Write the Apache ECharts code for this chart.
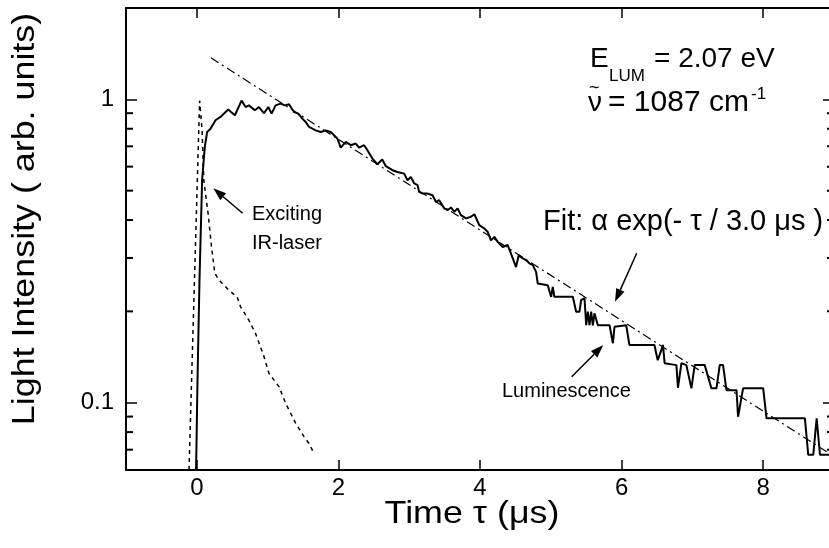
<!DOCTYPE html>
<html>
<head>
<meta charset="utf-8">
<script src="https://cdn.jsdelivr.net/npm/echarts@6/dist/echarts.min.js"></script>
<style>
  html, body { margin: 0; padding: 0; background: #fff; }
  #chart { width: 829px; height: 548px; }
</style>
</head>
<body>
<div id="chart"></div>
<script>
// luminescence trace, time in us / intensity (arb. units)
var lumT = [-0.01, 0.01, 0.038, 0.075, 0.113, 0.146, 0.194, 0.264, 0.335, 0.443,
  0.538, 0.632, 0.689, 0.736, 0.821, 0.877, 0.948, 1.009, 1.057, 1.113,
  1.184, 1.245, 1.302, 1.373, 1.434, 1.49, 1.538, 1.585, 1.679, 1.75,
  1.821, 1.892, 1.939, 1.986, 2.033, 2.104, 2.175, 2.245, 2.292, 2.363,
  2.41, 2.48, 2.55, 2.62, 2.67, 2.764, 2.834, 2.929, 2.976, 3.023,
  3.071, 3.118, 3.141, 3.188, 3.259, 3.33, 3.377, 3.424, 3.495, 3.542,
  3.589, 3.637, 3.684, 3.731, 3.802, 3.873, 3.92, 3.99, 4.061, 4.108,
  4.155, 4.203, 4.25, 4.321, 4.391, 4.438, 4.509, 4.547, 4.604, 4.651,
  4.698, 4.745, 4.792, 4.816, 4.957, 5.004, 5.028, 5.05, 5.311, 5.358,
  5.405, 5.429, 5.476, 5.5, 5.523, 5.547, 5.57, 5.594, 5.617, 5.665,
  5.83, 5.877, 5.9, 6.065, 6.11, 6.464, 6.51, 6.561, 6.584, 6.608,
  6.774, 6.796, 6.82, 6.845, 6.915, 6.986, 7.032, 7.174, 7.269, 7.34,
  7.386, 7.433, 7.481, 7.623, 7.645, 7.669, 7.716, 8.0, 8.047, 8.589,
  8.636, 8.707, 8.755, 8.802, 8.93];
var lumI = [0.06, 0.119, 0.254, 0.541, 0.697, 0.78, 0.8, 0.853, 0.875, 0.925,
  0.886, 0.99, 0.943, 0.955, 0.92, 0.943, 0.9, 0.943, 0.897, 0.955,
  0.968, 0.955, 0.963, 0.908, 0.897, 0.864, 0.842, 0.811, 0.79, 0.78,
  0.79, 0.78, 0.761, 0.742, 0.693, 0.724, 0.706, 0.715, 0.693, 0.706,
  0.68, 0.638, 0.611, 0.633, 0.602, 0.584, 0.576, 0.569, 0.541, 0.555,
  0.528, 0.521, 0.495, 0.489, 0.489, 0.483, 0.459, 0.465, 0.437, 0.431,
  0.44, 0.426, 0.437, 0.415, 0.405, 0.41, 0.418, 0.385, 0.375, 0.366,
  0.343, 0.352, 0.339, 0.326, 0.331, 0.31, 0.28, 0.306, 0.299, 0.295,
  0.288, 0.284, 0.27, 0.247, 0.244, 0.2234, 0.241, 0.2234, 0.2234, 0.1995,
  0.1995, 0.218, 0.221, 0.18, 0.1995, 0.18, 0.1995, 0.18, 0.197, 0.18,
  0.18, 0.157, 0.178, 0.18, 0.155, 0.155, 0.138, 0.149, 0.155, 0.135,
  0.133, 0.112, 0.112, 0.135, 0.133, 0.1115, 0.133, 0.133, 0.1115, 0.1115,
  0.133, 0.133, 0.11, 0.11, 0.0899, 0.0899, 0.1115, 0.1115, 0.0888, 0.0888,
  0.0673, 0.0673, 0.0888, 0.0673, 0.0673];

// exciting IR-laser pulse
var laserT = [-0.11, 0.04, 0.075, 0.099, 0.16, 0.208, 0.255, 0.311, 0.453, 0.57,
  0.618, 0.736, 0.83, 0.948, 1.019, 1.16, 1.255, 1.397, 1.514, 1.585, 1.656];
var laserI = [0.06, 0.99, 0.79, 0.541, 0.42, 0.326, 0.267, 0.254, 0.235, 0.223,
  0.207, 0.187, 0.169, 0.142, 0.125, 0.113, 0.0995, 0.0855, 0.0773, 0.0734, 0.068];

// fit  alpha exp(-t / 3.0 us)
var fitT = [0.2, 9.0];
var fitI = [1.37, 0.0665];

var xTickLabels = [0, 2, 4, 6, 8];
var yTickLabels = [0.1, 1];
// log-paper minor ticks on the intensity axis
var yMinorTicks = [0.07, 0.08, 0.09, 0.2, 0.3, 0.4, 0.5, 0.6, 0.7, 0.8, 0.9];

function pairs(t, v) {
  return t.map(function (x, i) { return [x, v[i]]; });
}

var FONT = '"Liberation Sans", Arial, sans-serif';
var BLACK = '#000';

function xAxisCfg(pos, labels) {
  return {
    type: 'value', position: pos, min: -1, max: 9, splitNumber: 5,
    axisLine: { onZero: false, lineStyle: { color: BLACK, width: 2 } },
    axisTick: { inside: true, length: 10, lineStyle: { color: BLACK, width: 1.5 } },
    axisLabel: {
      show: labels, color: BLACK, fontSize: 24, fontFamily: FONT, margin: 6,
      showMinLabel: false, showMaxLabel: false,
      formatter: function (v) { return xTickLabels.indexOf(v) >= 0 ? String(v) : ''; }
    },
    splitLine: { show: false }
  };
}

function yAxisCfg(pos, labels) {
  return {
    type: 'log', logBase: 10, position: pos, min: 0.06, max: 2,
    axisLine: { onZero: false, lineStyle: { color: BLACK, width: 2 } },
    axisTick: { inside: true, length: 11, lineStyle: { color: BLACK, width: 1.5 } },
    minorTick: { show: false },
    axisLabel: {
      show: labels, color: BLACK, fontSize: 24, fontFamily: FONT, margin: 12,
      showMinLabel: false, showMaxLabel: false,
      formatter: function (v) {
        for (var i = 0; i < yTickLabels.length; i++) {
          if (Math.abs(v - yTickLabels[i]) < 1e-6) return String(yTickLabels[i]);
        }
        return '';
      }
    },
    splitLine: { show: false },
    minorSplitLine: { show: false }
  };
}

function arrow(x1, y1, x2, y2) {
  var a = Math.atan2(y2 - y1, x2 - x1), L = 13, W = 4.5;
  var bx = x2 - L * Math.cos(a), by = y2 - L * Math.sin(a);
  return {
    type: 'group',
    children: [
      { type: 'line', shape: { x1: x1, y1: y1, x2: bx, y2: by }, style: { stroke: BLACK, lineWidth: 1.5 } },
      { type: 'polygon', shape: { points: [[x2, y2],
          [bx + W * Math.sin(a), by - W * Math.cos(a)],
          [bx - W * Math.sin(a), by + W * Math.cos(a)]] }, style: { fill: BLACK } }
    ]
  };
}

function txt(x, y, s, size, align) {
  return { type: 'text', x: x, y: y,
    style: { text: s, font: size + 'px ' + FONT, fill: BLACK, align: align || 'left', verticalAlign: 'middle' } };
}

var chart = echarts.init(document.getElementById('chart'));

var option = {
  animation: false,
  backgroundColor: '#fff',
  grid: { left: 126, top: 8, width: 708, height: 462, outerBoundsMode: 'none' },
  xAxis: [xAxisCfg('bottom', true), xAxisCfg('top', false)],
  yAxis: [yAxisCfg('left', true), yAxisCfg('right', false)],
  series: [
    {
      name: 'Luminescence', type: 'line', data: pairs(lumT, lumI),
      showSymbol: false, symbol: 'none', clip: true,
      lineStyle: { color: BLACK, width: 2 }
    },
    {
      name: 'Exciting IR-laser', type: 'line', data: pairs(laserT, laserI),
      showSymbol: false, symbol: 'none', clip: true,
      lineStyle: { color: BLACK, width: 1.5, type: [4, 4] }
    },
    {
      name: 'Fit', type: 'line', data: pairs(fitT, fitI),
      showSymbol: false, symbol: 'none', clip: true,
      lineStyle: { color: BLACK, width: 1.2, type: [9, 4, 2, 4] }
    },
    {
      // minor ticks on left and right intensity axes
      name: 'minor', type: 'custom', silent: true, clip: false, z: 10,
      data: yMinorTicks.map(function (v) { return [0, v]; }),
      renderItem: function (params, api) {
        var cs = params.coordSys;
        var y = api.coord([0, api.value(1)])[1];
        var left = cs.x, right = cs.x + cs.width;
        return {
          type: 'group',
          children: [
            { type: 'line', shape: { x1: left, y1: y, x2: left + 7, y2: y }, style: { stroke: BLACK, lineWidth: 2 } },
            { type: 'line', shape: { x1: right - 7, y1: y, x2: right, y2: y }, style: { stroke: BLACK, lineWidth: 2 } }
          ]
        };
      }
    }
  ],
  graphic: [
    // axis titles
    { type: 'text', x: 25, y: 219, rotation: Math.PI / 2, scaleX: 1.12,
      style: { text: 'Light Intensity ( arb. units)', font: '32px ' + FONT, fill: BLACK,
        align: 'center', verticalAlign: 'middle' } },
    { type: 'text', x: 472, y: 514, scaleX: 1.12,
      style: { text: 'Time \u03c4 (\u03bcs)', font: '32px ' + FONT, fill: BLACK,
        align: 'center', verticalAlign: 'middle' } },
    // annotations
    txt(590, 59, 'E', 28),
    txt(609, 76, 'LUM', 17),
    txt(654, 59, '= 2.07 eV', 28),
    txt(588, 103, '\u03bd', 28),
    txt(589, 88, '~', 18),
    txt(608, 103, '= 1087 cm', 30),
    txt(751, 94, '-1', 17),
    txt(543, 222, 'Fit: \u03b1 exp(- \u03c4 / 3.0 \u03bcs )', 29),
    txt(252, 214, 'Exciting', 20),
    txt(252, 243, 'IR-laser', 20),
    txt(502, 391, 'Luminescence', 20),
    arrow(242.7, 213.3, 213.3, 188.3),
    arrow(636.7, 253.3, 615, 301.7),
    arrow(571.7, 376.7, 603.3, 345)
  ]
};

chart.setOption(option);
</script>
</body>
</html>
